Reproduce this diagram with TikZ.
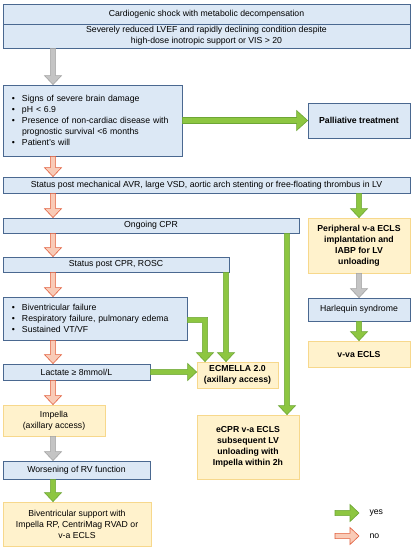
\documentclass[tikz,border=0pt]{standalone}
\usepackage{fontspec}
\setmainfont{Liberation Sans}
\usepackage{tikz}
\usetikzlibrary{calc}
\definecolor{BoxFill}{HTML}{DCE8F5}
\definecolor{BoxLine}{HTML}{4A6890}
\definecolor{NoteFill}{HTML}{FFF2CC}
\definecolor{NoteLine}{HTML}{F7D88C}
\definecolor{YesFill}{HTML}{8DC641}
\definecolor{YesLine}{HTML}{6DA635}
\definecolor{NoFill}{HTML}{F9CBB7}
\definecolor{NoLine}{HTML}{E2603E}
\definecolor{GreyFill}{HTML}{C4C4C4}
\definecolor{GreyLine}{HTML}{A3A3A3}
\newcommand{\arrshaft}{2.6pt}
\newcommand{\arrhead}{8.5pt}
\newcommand{\arrlen}{9pt}
\newcommand{\boxfont}{\fontsize{8.7}{11}\selectfont}
\newcommand{\bul}[1]{\mbox{\makebox[10pt][l]{\textbullet}#1}}
\tikzset{
  box/.style={draw=BoxLine,fill=BoxFill,line width=0.8pt,inner sep=2pt,align=center,font=\boxfont},
  note/.style={draw=NoteLine,fill=NoteFill,line width=0.8pt,inner sep=2pt,align=center,font=\boxfont\bfseries},
  yes/.style={draw=YesLine,fill=YesFill,line width=0.6pt},
  no/.style={draw=NoLine,fill=NoFill,line width=0.6pt},
  grey/.style={draw=GreyLine,fill=GreyFill,line width=0.6pt},
  big/.code={\renewcommand{\arrshaft}{3pt}\renewcommand{\arrhead}{10pt}\renewcommand{\arrlen}{11pt}},
  down/.style={to path={let \p1=(\tikztostart),\p2=(\tikztotarget) in
    (\x1-\arrshaft,\y1) -- (\x1-\arrshaft,\y2+\arrlen) -- (\x1-\arrhead,\y2+\arrlen)
    -- (\x1,\y2) -- (\x1+\arrhead,\y2+\arrlen) -- (\x1+\arrshaft,\y2+\arrlen)
    -- (\x1+\arrshaft,\y1) -- cycle}},
  right/.style={to path={let \p1=(\tikztostart),\p2=(\tikztotarget) in
    (\x1,\y1+\arrshaft) -- (\x2-\arrlen,\y1+\arrshaft) -- (\x2-\arrlen,\y1+\arrhead)
    -- (\x2,\y1) -- (\x2-\arrlen,\y1-\arrhead) -- (\x2-\arrlen,\y1-\arrshaft)
    -- (\x1,\y1-\arrshaft) -- cycle}},
  elbow/.style={to path={let \p1=(\tikztostart),\p2=(\tikztotarget) in
    (\x1,\y1+\arrshaft) -- (\x2+\arrshaft,\y1+\arrshaft) -- (\x2+\arrshaft,\y2+\arrlen)
    -- (\x2+\arrhead,\y2+\arrlen) -- (\x2,\y2) -- (\x2-\arrhead,\y2+\arrlen)
    -- (\x2-\arrshaft,\y2+\arrlen) -- (\x2-\arrshaft,\y1-\arrshaft)
    -- (\x1,\y1-\arrshaft) -- cycle}},
}
\begin{document}
\begin{tikzpicture}[x=1pt,y=-1pt]
\useasboundingbox[fill=white] (0,0) rectangle (413,550);

% Entry and exclusion criteria.
\node[box,minimum width=407,minimum height=20] (shock) at (206.5,14)
  {Cardiogenic shock with metabolic decompensation};
\node[box,minimum width=407,minimum height=24] (lvef) at (206.5,36)
  {Severely reduced LVEF and rapidly declining condition despite\\
   high-dose inotropic support or VIS > 20};
\node[box,align=left,text width=161,inner xsep=9pt,minimum height=71] (crit) at (92.5,120.5)
  {\bul{Signs of severe brain damage}\\
   \bul{pH < 6.9}\\
   \bul{Presence of non-cardiac disease with}\\
   \hspace*{10pt}prognostic survival <6 months\\
   \bul{Patient's will}};
\node[box,font=\boxfont\bfseries,minimum width=102,minimum height=35] (palliative) at (359,120.5)
  {Palliative treatment};
\node[box,minimum width=407,minimum height=16] (avr) at (206.5,185)
  {Status post mechanical AVR, large VSD, aortic arch stenting or free-floating thrombus in LV};

% Left column.
\node[box,minimum width=296,minimum height=15] (ongoing) at (151,225.5) {Ongoing CPR};
\node[box,minimum width=226,minimum height=15] (rosc) at (116,264.5) {Status post CPR, ROSC};
\node[box,align=left,text width=166,inner xsep=9pt,minimum height=43] (failure) at (95,318.5)
  {\bul{Biventricular failure}\\
   \bul{Respiratory failure, pulmonary edema}\\
   \bul{Sustained VT/VF}};
\node[box,minimum width=147,minimum height=16] (lactate) at (76.5,372) {Lactate ≥ 8mmol/L};
\node[note,font=\boxfont,minimum width=102,minimum height=31] (impella) at (54,420.5)
  {Impella\\(axillary access)};
\node[box,minimum width=147,minimum height=18] (rvfail) at (76.5,470) {Worsening of RV function};
\node[note,font=\boxfont,minimum width=148,minimum height=44] (bivad) at (77,524)
  {Biventricular support with\\Impella RP, CentriMag RVAD or\\v-a ECLS};

% Middle and right column.
\node[note,minimum width=81,minimum height=26] (ecmella) at (237.5,375)
  {ECMELLA 2.0\\(axillary access)};
\node[note,minimum width=102,minimum height=64] (ecpr) at (248,447)
  {eCPR v-a ECLS\\subsequent LV\\unloading with\\Impella within 2h};
\node[note,minimum width=102,minimum height=55] (periph) at (359,245.5)
  {Peripheral v-a ECLS\\implantation and\\IABP for LV\\unloading};
\node[box,minimum width=102,minimum height=23] (harlequin) at (359,309.5) {Harlequin syndrome};
\node[note,minimum width=102,minimum height=26] (vva) at (359,354) {v-va ECLS};

% Block arrows.
\coordinate (spine) at (53,0);
\coordinate (elbowx) at (205,0);
\coordinate (roscdrop) at (226,0);
\coordinate (cprdrop) at (287,0);
\draw[grey,down] (lvef.south -| spine) to (crit.north -| spine);
\draw[yes,big,right] (crit.east) to (palliative.west);
\draw[no,down] (crit.south -| spine) to (avr.north -| spine);
\draw[no,down] (avr.south -| spine) to (ongoing.north -| spine);
\draw[no,down] (ongoing.south -| spine) to (rosc.north -| spine);
\draw[no,down] (rosc.south -| spine) to (failure.north -| spine);
\draw[no,down] (failure.south -| spine) to (lactate.north -| spine);
\draw[no,down] (lactate.south -| spine) to (impella.north -| spine);
\draw[grey,down] (impella.south -| spine) to (rvfail.north -| spine);
\draw[yes,down] (rvfail.south -| spine) to (bivad.north -| spine);
\draw[yes,elbow] ([yshift=-1.5pt]failure.east) to (ecmella.north -| elbowx);
\draw[yes,down] (rosc.south -| roscdrop) to (ecmella.north -| roscdrop);
\draw[yes,right] (lactate.east) to (lactate.east -| ecmella.west);
\draw[yes,down] (ongoing.south -| cprdrop) to (ecpr.north -| cprdrop);
\draw[yes,down] (avr.south -| periph.north) to (periph.north);
\draw[grey,down] (periph.south) to (harlequin.north);
\draw[yes,down] (harlequin.south) to (vva.north);

% Legend.
\foreach \kind/\y in {yes/513,no/536} {
  \coordinate (\kind from) at (335,\y);
  \coordinate (\kind to) at (359,\y);
  \draw[\kind,right] (\kind from) to (\kind to);
  \node[font=\boxfont,anchor=west] (\kind label) at (366,\y) {\kind};
}
\end{tikzpicture}
\end{document}
